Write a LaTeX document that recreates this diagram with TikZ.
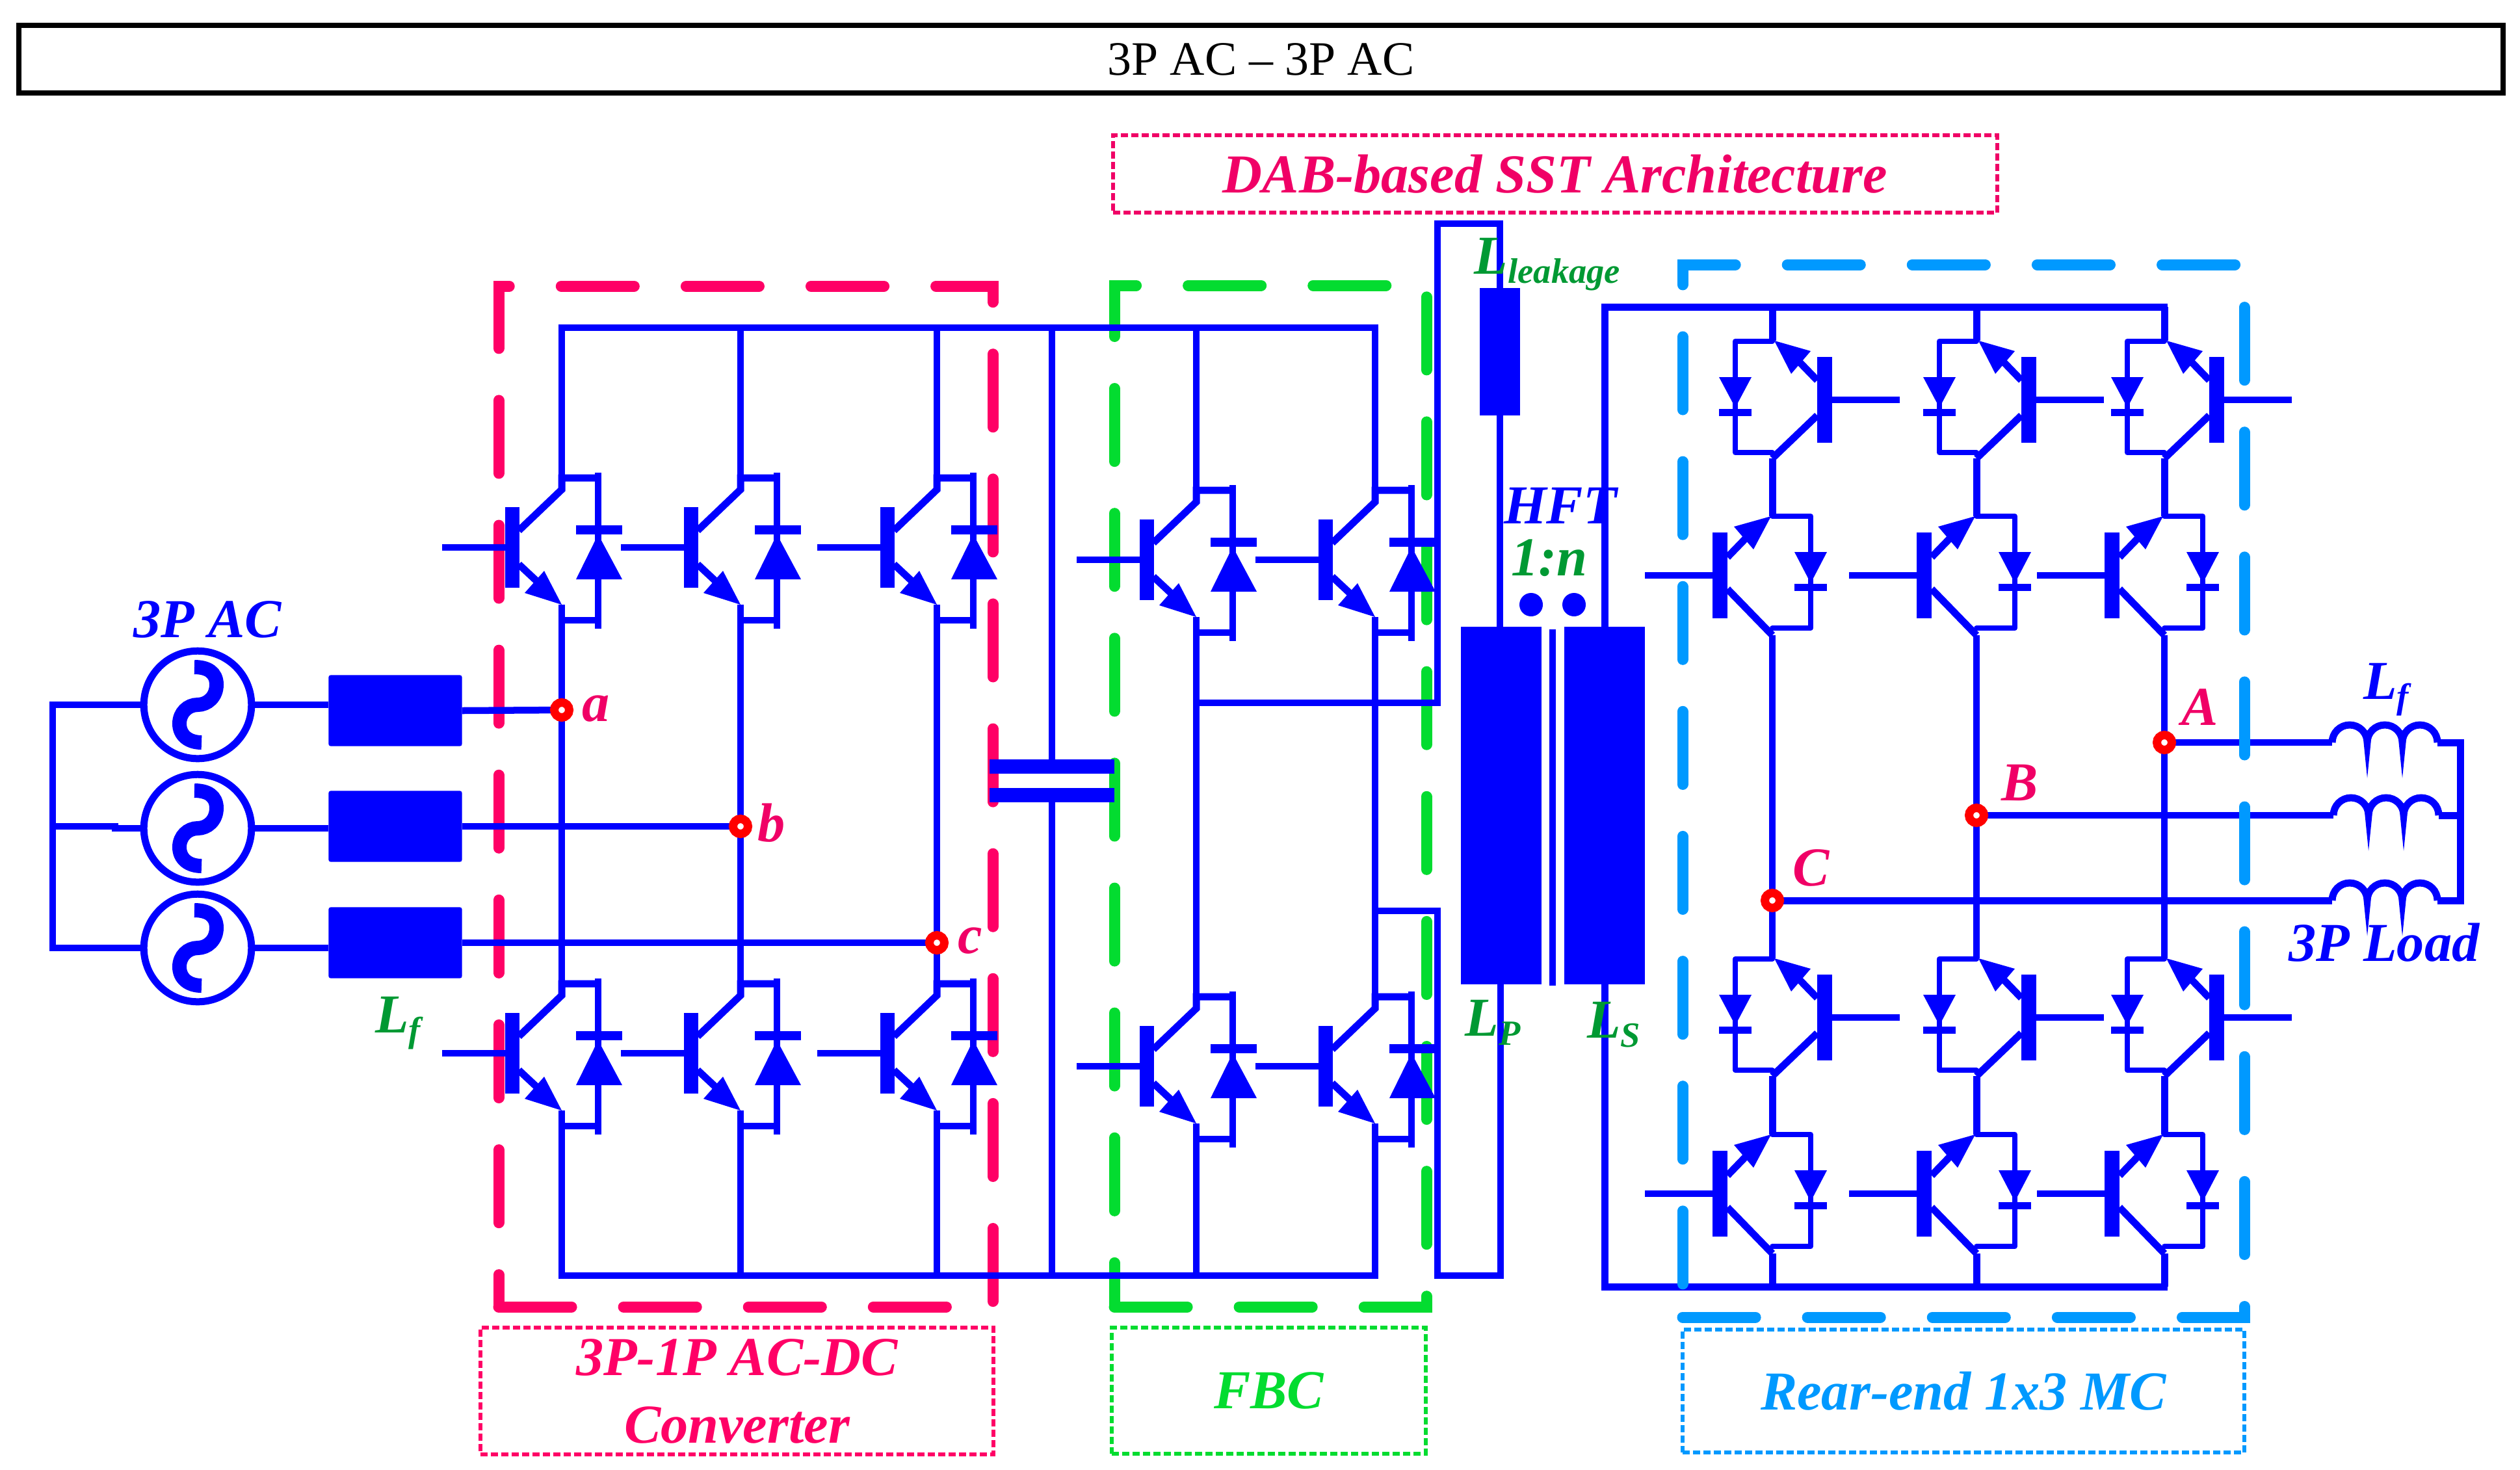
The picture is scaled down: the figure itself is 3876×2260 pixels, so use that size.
\documentclass[tikz,border=0pt]{standalone}
\usepackage{fontspec}
\setmainfont{Liberation Serif}
\definecolor{hotpink}{HTML}{FF0066}
\definecolor{textpink}{HTML}{F00066}
\definecolor{limegrn}{HTML}{03DC30}
\definecolor{darkgrn}{HTML}{009933}
\definecolor{skyblue}{HTML}{0099FF}

% switch with gate on the left, diode on the right
\newcommand{\swright}[3]{
  \begin{scope}[shift={(#2,#3)}]
    \coordinate (#1c) at (0,-89);
    \coordinate (#1e) at (0,88);
    \fill [blue] (-87,-62) rectangle (-65,62);
    \draw [wire] (-184,0) -- (-76,0);
    \draw [diag] (-66,-26) -- (0,-89) -- (0,-107) -- (56,-107);
    \draw [diag] (-66,26) -- (-35,55);
    \fill [blue] (0,88) -- (-27,36) -- (-57,70) -- cycle;
    \draw [wire] (0,88) -- (0,112) -- (56,112);
    \draw [wire] (56,-115) -- (56,125);
    \fill [blue] (22,-34) rectangle (93,-20);
    \fill [blue] (56,-20) -- (22,49) -- (93,49) -- cycle;
  \end{scope}
}
% emitter on top, gate on the right, diode on the left
\newcommand{\swupper}[3]{
  \begin{scope}[shift={(#2,#3)}]
    \coordinate (#1t) at (0,-91);
    \coordinate (#1b) at (0,90);
    \fill [blue] (69,-66) rectangle (92,66);
    \draw [wire] (80,0) -- (196,0);
    \draw [diag] (69,-30) -- (40,-60);
    \fill [blue] (3,-91) -- (59,-75) -- (29,-40) -- cycle;
    \draw [diag] (69,24) -- (0,90);
    \draw [frame] (0,-90) -- (-57,-90) -- (-57,81) -- (0,81);
    \fill [blue] (-57,12) -- (-82,-35) -- (-32,-35) -- cycle;
    \fill [blue] (-82,14) rectangle (-32,25);
  \end{scope}
}
% emitter on top, gate on the left, diode on the right
\newcommand{\swlower}[3]{
  \begin{scope}[shift={(#2,#3)}]
    \coordinate (#1t) at (0,-91);
    \coordinate (#1b) at (0,92);
    \fill [blue] (-92,-66) rectangle (-69,66);
    \draw [wire] (-196,0) -- (-80,0);
    \draw [diag] (-69,-28) -- (-40,-58);
    \fill [blue] (-2,-91) -- (-59,-75) -- (-29,-40) -- cycle;
    \draw [diag] (-69,21) -- (0,92);
    \draw [frame] (0,-91) -- (59,-91) -- (59,81) -- (0,81);
    \fill [blue] (59,12) -- (34,-36) -- (84,-36) -- cycle;
    \fill [blue] (34,13) rectangle (84,24);
  \end{scope}
}
\newcommand{\subtxt}[1]{\raisebox{-4pt}{\fontsize{15.5}{16}\selectfont #1}}

\begin{document}
\begin{tikzpicture}[x=0.01cm,y=-0.01cm]
      \tikzstyle{every node}+=[inner sep=0pt,outer sep=0pt]
      \tikzstyle{wire}=[draw=blue,line width=0.105cm]
      \tikzstyle{diag}=[draw=blue,line width=0.11cm]
      \tikzstyle{frame}=[draw=blue,line width=0.08cm,line join=round,line cap=round]
      \tikzstyle{winding}=[fill=blue,minimum width=1.24cm,minimum height=5.5cm]
      \tikzstyle{choke}=[fill=blue,rounded corners=0.03cm,minimum width=2.05cm,minimum height=1.09cm]
      \tikzstyle{source}=[circle,draw=blue,line width=0.11cm,minimum size=1.655cm]
      \tikzstyle{ring}=[circle,draw=red,fill=white,line width=0.13cm,minimum size=0.23cm]
      \tikzstyle{pointdot}=[circle,fill=blue,minimum size=0.36cm]
      \tikzstyle{zone}=[line width=0.17cm,line cap=round,dash pattern=on 1.12cm off 0.8cm]
      \tikzstyle{tagbox}=[draw,line width=0.06cm,dash pattern=on 0.11cm off 0.05cm,align=center,
        font=\fontsize{24}{29.6}\selectfont\bfseries\itshape]
      \tikzstyle{lab}=[font=\fontsize{24}{26}\selectfont\bfseries\itshape]
      \useasboundingbox (0,0) rectangle (3876,2260);

      % title
      \node [draw=black,line width=0.08cm,minimum width=38.19cm,minimum height=1.04cm,
        font=\fontsize{21}{24}\selectfont] (title) at (1939.5,91) {3P AC -- 3P AC};

      % zones under the circuit
      \draw [zone,hotpink] (767,2010) -- (1527,2010) -- (1527,440) -- (767,440) -- cycle;
      \draw [zone,limegrn] (1714,2010) -- (2194,2010) -- (2194,439) -- (1714,439) -- cycle;

      % sources and filters
      \node [source] (acA) at (304,1084) {};
      \node [source] (acB) at (304,1274) {};
      \node [source] (acC) at (304,1458) {};
      \foreach \n in {acA,acB,acC}
        \draw [blue,line width=0.22cm,shift={(\n)}] (-5,-58) .. controls (15,-58) and (29,-50) .. (29,-31)
          .. controls (29,-12) and (15,0) .. (0,0) .. controls (-15,0) and (-28,12) .. (-28,29)
          .. controls (-28,47) and (-14,58) .. (6,58);
      \node [choke] (LfA) at (608,1093) {};
      \node [choke] (LfB) at (608,1271) {};
      \node [choke] (LfC) at (608,1450) {};
      \coordinate (nTop) at (81,1084);
      \coordinate (nMid) at (81,1271);
      \coordinate (nJog) at (177,1271);
      \coordinate (nBot) at (81,1458);
      \draw [wire] (acA.west) -- (nTop) -- (nBot) -- (acC.west);
      \draw [wire] (nMid) -- (nJog) -- (nJog |- acB) -- (acB.west);
      \draw [wire] (acA.east) -- (acA.east -| LfA.west);
      \draw [wire] (acB.east) -- (acB.east -| LfB.west);
      \draw [wire] (acC.east) -- (acC.east -| LfC.west);

      % 3P-1P converter and FBC switches
      \swright{sa}{864}{842}
      \swright{sb}{1139}{842}
      \swright{sc}{1441}{842}
      \swright{sd}{864}{1620}
      \swright{se}{1139}{1620}
      \swright{sf}{1441}{1620}
      \swright{fa}{1840}{861}
      \swright{fb}{2115}{861}
      \swright{fc}{1840}{1640}
      \swright{fd}{2115}{1640}

      % dc link
      \coordinate (busTL) at (864,504);
      \coordinate (busTR) at (2115,504);
      \coordinate (busBL) at (864,1962);
      \coordinate (busBR) at (2115,1962);
      \draw [wire] (sac) -- (busTL) -- (busTR) -- (fbc);
      \draw [wire] (sbc) -- (sbc |- busTL);
      \draw [wire] (scc) -- (scc |- busTL);
      \draw [wire] (fac) -- (fac |- busTL);
      \draw [wire] (sde) -- (busBL) -- (busBR) -- (fde);
      \draw [wire] (see) -- (see |- busBL);
      \draw [wire] (sfe) -- (sfe |- busBL);
      \draw [wire] (fce) -- (fce |- busBL);
      \draw [wire] (sae) -- (sdc);
      \draw [wire] (sbe) -- (sec);
      \draw [wire] (sce) -- (sfc);
      \draw [wire] (fae) -- (fcc);
      \draw [wire] (fbe) -- (fdc);

      % dc capacitor
      \node [fill=blue,minimum width=1.92cm,minimum height=0.22cm] (capU) at (1618,1179) {};
      \node [fill=blue,minimum width=1.92cm,minimum height=0.22cm] (capD) at (1618,1223) {};
      \draw [wire] (capU) -- (capU |- busTL);
      \draw [wire] (capD) -- (capD |- busBL);

      % transformer
      \node [fill=blue,minimum width=0.62cm,minimum height=1.95cm] (Lk) at (2307,541) {};
      \node [winding] (Lp) at (2309,1239) {};
      \node [winding] (Ls) at (2468,1239) {};
      \node [fill=blue,minimum width=0.1cm,minimum height=5.48cm] (core) at (2388,1242) {};
      \node [pointdot] (dotP) at (2355,930) {};
      \node [pointdot] (dotS) at (2421,930) {};
      \coordinate (midR) at (2211,1081);
      \coordinate (topL) at (2211,344);
      \coordinate (topR) at (2307,344);
      \draw [wire] (fae |- midR) -- (midR) -- (topL) -- (topR) -- (Lk.north);
      \draw [wire] (Lk.south) -- (Lp.north -| Lk.south);
      \coordinate (lowA) at (2115,1401);
      \coordinate (lowB) at (2211,1401);
      \coordinate (lowC) at (2211,1962);
      \coordinate (lowD) at (2308,1962);
      \draw [wire] (lowA) -- (lowB) -- (lowC) -- (lowD) -- (lowD |- Lp.south);

      % rear-end matrix converter
      \swupper{ua}{2726}{615}
      \swupper{ub}{3040}{615}
      \swupper{uc}{3329}{615}
      \swlower{la}{2726}{885}
      \swlower{lb}{3040}{885}
      \swlower{lc}{3329}{885}
      \swupper{va}{2726}{1565}
      \swupper{vb}{3040}{1565}
      \swupper{vc}{3329}{1565}
      \swlower{ma}{2726}{1836}
      \swlower{mb}{3040}{1836}
      \swlower{mc}{3329}{1836}
      \coordinate (secT) at (2468,472);
      \coordinate (secB) at (2468,1979);
      \coordinate (secTR) at (3334,472);
      \coordinate (secBR) at (3334,1979);
      \draw [diag] (Ls.north) -- (secT) -- (secTR);
      \draw [diag] (Ls.south) -- (secB) -- (secBR);
      \draw [diag] (uat) -- (uat |- secT);
      \draw [diag] (ubt) -- (ubt |- secT);
      \draw [diag] (uct) -- (uct |- secT);
      \draw [diag] (uab) -- (lat);
      \draw [diag] (ubb) -- (lbt);
      \draw [diag] (ucb) -- (lct);
      \draw [wire] (lab) -- (vat);
      \draw [wire] (lbb) -- (vbt);
      \draw [wire] (lcb) -- (vct);
      \draw [diag] (vab) -- (mat);
      \draw [diag] (vbb) -- (mbt);
      \draw [diag] (vcb) -- (mct);
      \draw [diag] (mab) -- (mab |- secB);
      \draw [diag] (mbb) -- (mbb |- secB);
      \draw [diag] (mcb) -- (mcb |- secB);

      % load side
      \coordinate (ptA) at (3329,1142);
      \coordinate (ptB) at (3040,1254);
      \coordinate (ptC) at (2726,1385);
      \coordinate (coilA) at (3587,1142);
      \coordinate (coilB) at (3589,1254);
      \coordinate (coilC) at (3587,1385);
      \coordinate (starA) at (3784,1142);
      \coordinate (starB) at (3784,1254);
      \coordinate (starC) at (3784,1385);
      \draw [wire] (ptA) -- (coilA);
      \draw [wire] (ptB) -- (coilB);
      \draw [diag] (ptC) -- (coilC);
      \draw [diag] (coilA) arc (180:360:27) arc (180:360:27) arc (180:360:27);
      \draw [diag] (coilB) arc (180:360:27) arc (180:360:27) arc (180:360:27);
      \draw [diag] (coilC) arc (180:360:27) arc (180:360:27) arc (180:360:27);
      \draw [diag] (3749,1142) -- (starA) -- (starC) -- (3749,1385);
      \draw [diag] (3751,1254) -- (starB);

      % zone over the circuit
      \draw [zone,skyblue] (2588,2026) -- (3452,2026) -- (3452,407) -- (2588,407) -- cycle;

      % junctions
      \draw [wire] (LfA.east) -- (864,1092);
      \draw [wire] (LfB.east) -- (1139,1271);
      \draw [wire] (LfC.east) -- (1441,1450);
      \node [ring] (pa) at (864,1092) {};
      \node [ring] (pb) at (1139,1271) {};
      \node [ring] (pc) at (1441,1450) {};
      \node [ring] (pA) at (ptA) {};
      \node [ring] (pB) at (ptB) {};
      \node [ring] (pC) at (ptC) {};

      % labels
      \node [lab,blue] (acname) at (319,953) {3P AC};
      \node [lab,textpink] (la) at (917,1090) {a};
      \node [lab,textpink] (lb) at (1187,1266) {b};
      \node [lab,textpink] (lc) at (1492,1447) {c};
      \node [lab,textpink] (lA) at (3384,1088) {A};
      \node [lab,textpink] (lB) at (3107,1204) {B};
      \node [lab,textpink] (lC) at (2786,1335) {C};
      \node [lab,darkgrn] (nameLf) at (612,1574) {L\subtxt{f}};
      \node [lab,blue] (loadLf) at (3670,1061) {L\subtxt{f}};
      \node [lab,blue] (loadname) at (3667,1450) {3P Load};
      \node [lab,darkgrn] (nameLk) at (2380,407) {L\subtxt{leakage}};
      \node [lab,blue] (hft) at (2400,778) {HFT};
      \node [lab,darkgrn] (ratio) at (2383,858) {1:n};
      \node [lab,darkgrn] (nameLp) at (2296,1573) {L\subtxt{P}};
      \node [lab,darkgrn] (nameLs) at (2482,1576) {L\subtxt{S}};

      % zone tags
      \node [tagbox,draw=textpink,text=textpink,minimum width=13.6cm,minimum height=1.19cm] (tagdab) at (2392,267.5) {DAB-based SST Architecture};
      \node [tagbox,draw=hotpink,text=hotpink,minimum width=7.89cm,minimum height=1.95cm] (tagrect) at (1133.5,2139.5) {3P-1P AC-DC\\Converter};
      \node [tagbox,draw=limegrn,text=limegrn,minimum width=4.83cm,minimum height=1.94cm] (tagfbc) at (1951.5,2139) {FBC};
      \node [tagbox,draw=skyblue,text=skyblue,minimum width=8.64cm,minimum height=1.89cm] (tagmc) at (3020,2139.5) {Rear-end 1x3 MC};
    \end{tikzpicture}
\end{document}
